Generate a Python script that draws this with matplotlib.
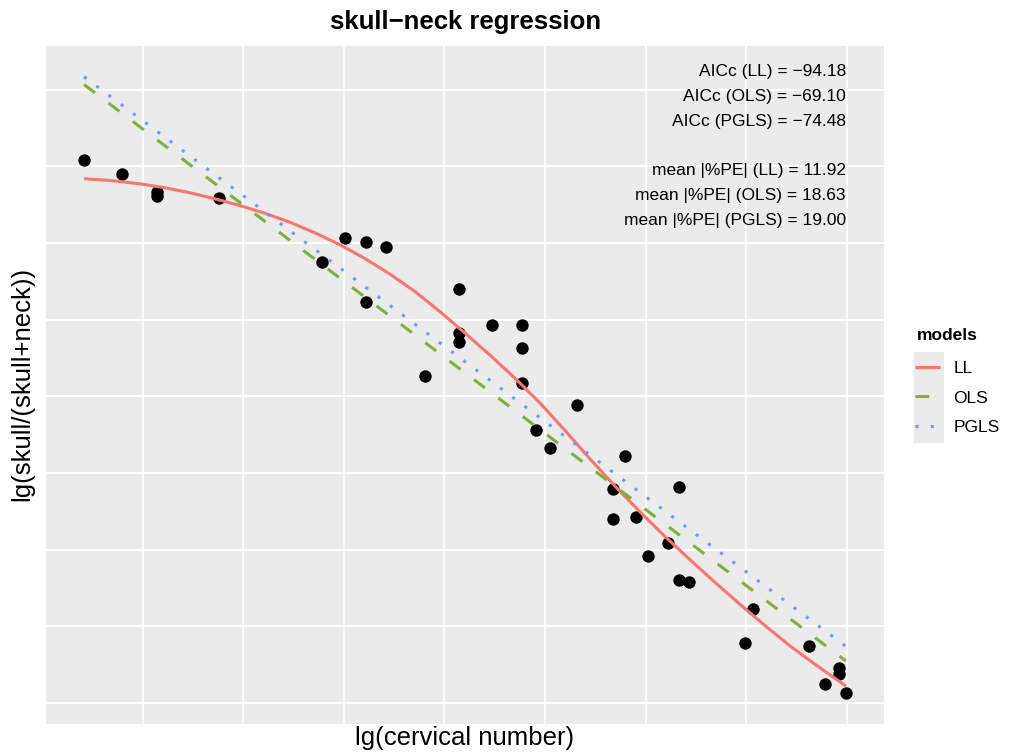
import numpy as np
import matplotlib
matplotlib.use("Agg")
import matplotlib.pyplot as plt
import matplotlib.transforms as mtransforms
from matplotlib.lines import Line2D
from matplotlib.patches import Rectangle

# ---- data ----
cerv_x = [0.9416, 0.9791, 1.0139, 1.0139, 1.0759, 1.1783, 1.2012, 1.2220, 1.2220,
          1.2419, 1.2807, 1.3148, 1.3148, 1.3148, 1.3470, 1.3768, 1.3768, 1.3768,
          1.3911, 1.4050, 1.4315, 1.4676, 1.4676, 1.4796, 1.4905, 1.5021, 1.5223,
          1.5333, 1.5333, 1.5432, 1.5989, 1.6068, 1.6625, 1.6784, 1.6924, 1.6924,
          1.6993]
skull_y = [-0.0911, -0.1094, -0.1338, -0.1390, -0.1416, -0.2243, -0.1930, -0.1982, -0.2765,
           -0.2047, -0.3731, -0.2595, -0.3174, -0.3287, -0.3065, -0.3065, -0.3372, -0.3822,
           -0.4436, -0.4667, -0.4116, -0.5206, -0.5598, -0.4775, -0.5568, -0.6081, -0.5911,
           -0.6394, -0.5176, -0.6416, -0.7213, -0.6777, -0.7256, -0.7756, -0.7547, -0.7625,
           -0.7866]

# LL fit, sampled along the curve
ll_x = [0.9416, 0.9675, 0.9973, 1.0222, 1.0470, 1.0719, 1.0967, 1.1216, 1.1465, 1.1713,
        1.1962, 1.2211, 1.2459, 1.2708, 1.2956, 1.3205, 1.3454, 1.3703, 1.3951, 1.4200,
        1.4448, 1.4697, 1.4946, 1.5194, 1.5443, 1.5691, 1.5940, 1.6189, 1.6437, 1.6686,
        1.6993]
ll_y = [-0.1159, -0.1183, -0.1226, -0.1278, -0.1343, -0.1422, -0.1510, -0.1611, -0.1728, -0.1866,
        -0.2022, -0.2202, -0.2405, -0.2633, -0.2894, -0.3175, -0.3462, -0.3765, -0.4087, -0.4446,
        -0.4816, -0.5171, -0.5508, -0.5828, -0.6132, -0.6426, -0.6713, -0.6991, -0.7255, -0.7496,
        -0.7779]
# straight fits (end points)
ols_x = [0.9416, 1.6993]
ols_y = [0.0068, -0.7452]
pgls_x = [0.9416, 1.6993]
pgls_y = [0.0170, -0.7262]

models = ["LL", "OLS", "PGLS"]
aicc = [-94.18, -69.10, -74.48]
mean_pe = [11.92, 18.63, 19.00]
colors = ["#F8766D", "#7CB23C", "#619CFF"]

plt.rcParams['font.family'] = ['Liberation Sans', 'DejaVu Sans']

W, H = 1010, 753
fig = plt.figure(figsize=(W / 100, H / 100), dpi=100)
ax = fig.add_axes([46 / W, (H - 723.5) / H, 838 / W, 677.5 / H])
ax.set_facecolor("#EBEBEB")
for s in ax.spines.values():
    s.set_visible(False)

lw = 2.2
ax.scatter(cerv_x, skull_y, s=80, color="black", linewidths=0, zorder=3)
ax.plot(ll_x, ll_y, color=colors[0], lw=lw, zorder=4, solid_capstyle="butt")
ax.plot(ols_x, ols_y, color=colors[1], lw=lw, zorder=4, dashes=(4.5, 5.5), dash_capstyle="butt")
ax.plot(pgls_x, pgls_y, color=colors[2], lw=lw, zorder=4, dashes=(1, 4), dash_capstyle="butt")

# ggplot style 5% expansion
allx = cerv_x + ll_x + ols_x + pgls_x
ally = skull_y + ll_y + ols_y + pgls_y
dx = (max(allx) - min(allx)) * 0.05
dy = (max(ally) - min(ally)) * 0.05
ax.set_xlim(min(allx) - dx, max(allx) + dx)
ax.set_ylim(min(ally) - dy, max(ally) + dy)

ax.set_xticks(np.round(np.arange(1.0, 1.71, 0.1), 1))
ax.set_yticks(np.round(np.arange(-0.8, 0.01, 0.1), 1))
ax.tick_params(length=0, labelbottom=False, labelleft=False)
ax.xaxis.grid(True, color="white", lw=1.1)
ax.yaxis.grid(True, color="white", lw=1.4)
ax.set_axisbelow(True)

def fmt(v):
    return f"{v:.2f}".replace("-", "\u2212")

lines = [f"AICc ({m}) = {fmt(a)}" for m, a in zip(models, aicc)]
lines.append("")
lines += [f"mean |%PE| ({m}) = {fmt(p)}" for m, p in zip(models, mean_pe)]
trans = mtransforms.blended_transform_factory(ax.transData, ax.transAxes)
ax.text(max(cerv_x), 0.9731, "\n".join(lines), transform=trans, ha="right", va="top",
        fontsize=12.5, linespacing=1.81)

# titles
fig.text(466 / W, 1 - 22 / H, "skull\u2212neck regression", ha="center", va="center",
         fontsize=18.5, fontweight="bold")
fig.text(465 / W, 1 - 738 / H, "lg(cervical number)", ha="center", va="center", fontsize=18.5)
fig.text(22 / W, 1 - 384 / H, "lg(skull/(skull+neck))", ha="center", va="center",
         rotation=90, fontsize=18.5)

# legend
fig.text(917 / W, 1 - 335 / H, "models", ha="left", va="center", fontsize=12.5,
         fontweight="bold")
fig.patches.append(Rectangle((914 / W, 1 - 443 / H), 30 / W, 91 / H, transform=fig.transFigure,
                             facecolor="#EBEBEB", edgecolor="none", zorder=1))
handles = [Line2D([], [], color=colors[0], lw=lw, solid_capstyle="butt"),
           Line2D([], [], color=colors[1], lw=lw, dashes=(4.5, 5.5), dash_capstyle="butt"),
           Line2D([], [], color=colors[2], lw=lw, dashes=(1, 4), dash_capstyle="butt")]
leg = fig.legend(handles, models, loc="center left",
                 bbox_to_anchor=(915 / W, 1 - 398 / H), frameon=False, fontsize=12.5,
                 handlelength=1.45, handletextpad=0.75, labelspacing=0.84, borderaxespad=0,
                 borderpad=0)
leg.set_zorder(5)

fig.savefig("out.png", dpi=100)
